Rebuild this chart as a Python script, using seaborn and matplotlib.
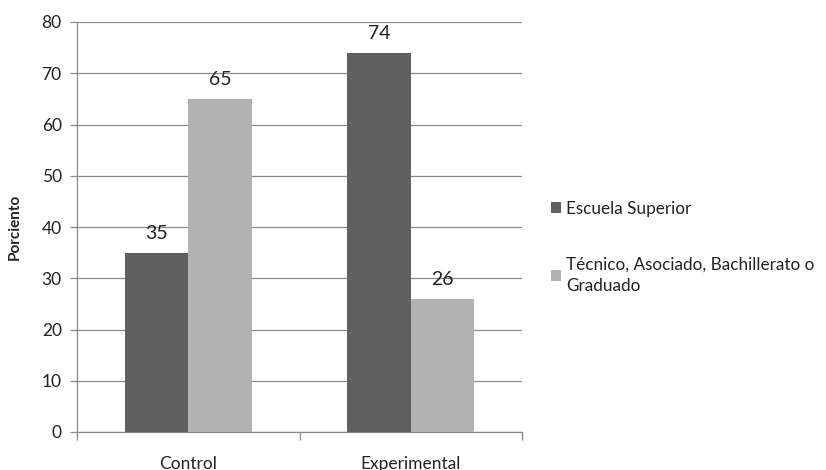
import matplotlib
matplotlib.use("Agg")
import matplotlib.pyplot as plt
import seaborn as sns
import pandas as pd

categories = ["Control", "Experimental"]
series_names = ["Escuela Superior", "Técnico, Asociado, Bachillerato o\nGraduado"]
escuela = [35, 74]
tecnico = [65, 26]
y_ticks = [0, 10, 20, 30, 40, 50, 60, 70, 80]

sns.set_theme(style="white")
plt.rcParams['font.family'] = ['Lato', 'DejaVu Sans']

df = pd.DataFrame({
    "grupo": categories * 2,
    "serie": [series_names[0]] * 2 + [series_names[1]] * 2,
    "valor": escuela + tecnico,
})

fig = plt.figure(figsize=(8.26, 4.70), dpi=100)
ax = fig.add_axes([77/826, 38/470, (522-77)/826, (432-22)/470])

sns.barplot(data=df, x="grupo", y="valor", hue="serie", order=categories,
            hue_order=series_names, palette=["#606060", "#b2b2b2"],
            width=0.57, saturation=1, ax=ax, zorder=3, edgecolor="none")

for cont in ax.containers:
    ax.bar_label(cont, fmt="%d", padding=8, fontsize=14, color="#222222")

ax.set_ylim(0, 80)
ax.set_xlim(-0.5, 1.5)
ax.set_yticks(y_ticks)
ax.yaxis.grid(True, color="#8a8a8a", linewidth=0.9, zorder=0)
ax.set_axisbelow(True)
for s in ["top", "right"]:
    ax.spines[s].set_visible(False)
for s in ["left", "bottom"]:
    ax.spines[s].set_color("#8a8a8a")
    ax.spines[s].set_linewidth(0.9)

ax.tick_params(axis="y", which="major", length=5, width=0.9, color="#8a8a8a",
               labelsize=12.5, labelcolor="#222222", left=True, pad=6)
ax.tick_params(axis="x", which="major", length=0, labelsize=12.5,
               labelcolor="#222222", pad=17)
ax.set_xticks([-0.5, 0.5, 1.5], minor=True)
ax.tick_params(axis="x", which="minor", length=6, width=0.9, color="#8a8a8a",
               bottom=True, direction="out")

ax.set_xlabel("")
ax.set_ylabel("Porciento", fontsize=11, fontweight="bold", color="#222222", labelpad=14)

leg = ax.legend(loc="center left", bbox_to_anchor=(1.03, 0.45), frameon=False,
                fontsize=12.3, handlelength=0.6, handleheight=0.6, handletextpad=0.3,
                labelspacing=2.3, labelcolor="#222222")
for t in leg.get_texts():
    t.set_linespacing(1.45)

fig.savefig("out.png", dpi=100)
